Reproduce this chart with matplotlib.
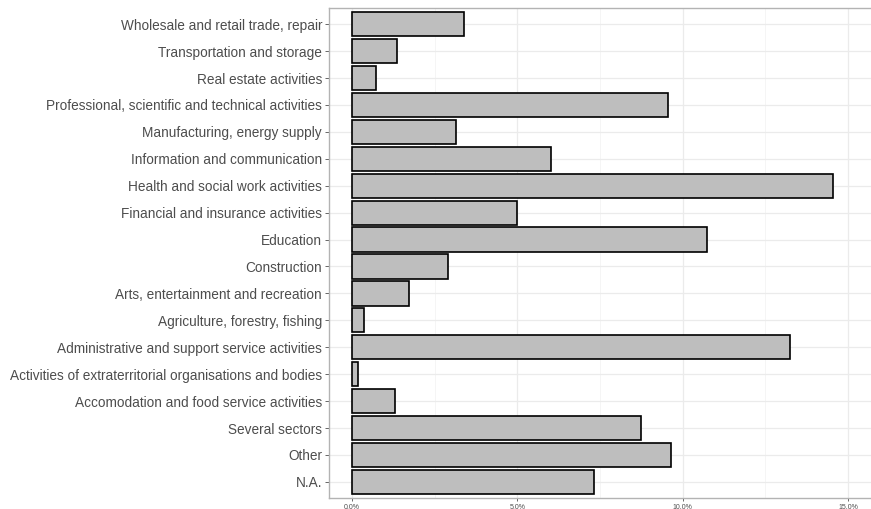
import matplotlib.pyplot as plt
from matplotlib.ticker import PercentFormatter, MultipleLocator

# sectors listed top to bottom as in the chart
sectors = [
    'Wholesale and retail trade, repair',
    'Transportation and storage',
    'Real estate activities',
    'Professional, scientific and technical activities',
    'Manufacturing, energy supply',
    'Information and communication',
    'Health and social work activities',
    'Financial and insurance activities',
    'Education',
    'Construction',
    'Arts, entertainment and recreation',
    'Agriculture, forestry, fishing',
    'Administrative and support service activities',
    'Activities of extraterritorial organisations and bodies',
    'Accomodation and food service activities',
    'Several sectors',
    'Other',
    'N.A.',
]
share = [3.39, 1.37, 0.72, 9.55, 3.13, 6.02, 14.55, 4.98, 10.72, 2.91,
         1.73, 0.36, 13.24, 0.18, 1.29, 8.75, 9.66, 7.31]

W, H = 871, 509
fig = plt.figure(figsize=(W / 100, H / 100), dpi=100)
plt.rcParams['font.family'] = ['Liberation Sans', 'DejaVu Sans']

x0_px = 352
px_per_pct = 33.07
left_px, right_px = 329, 890
top_px, bottom_px = 8, 498
ax = fig.add_axes([left_px / W, 1 - bottom_px / H,
                   (right_px - left_px) / W, (bottom_px - top_px) / H])

ypos = list(range(len(sectors)))[::-1]
ax.barh(ypos, share, height=0.9, color='#bebebe', edgecolor='black',
        linewidth=1.2, zorder=3)

ax.set_xlim((left_px - x0_px) / px_per_pct, (right_px - x0_px) / px_per_pct)
ax.set_ylim(-0.6, len(sectors) - 1 + 0.6)
ax.set_yticks(ypos)
ax.set_yticklabels(sectors, fontsize=9.8, color='#4d4d4d')

ax.xaxis.set_major_locator(MultipleLocator(5))
ax.xaxis.set_minor_locator(MultipleLocator(2.5))
ax.xaxis.set_major_formatter(PercentFormatter(xmax=100, decimals=1))
ax.tick_params(axis='x', labelsize=5, colors='#4d4d4d', length=2.5, width=0.6, pad=1.5)
ax.tick_params(axis='x', which='minor', length=0)
ax.tick_params(axis='y', length=3, width=0.6, color='#4d4d4d', pad=2)

ax.grid(True, which='major', color='#ebebeb', linewidth=0.9, zorder=0)
ax.grid(True, which='minor', axis='x', color='#f2f2f2', linewidth=0.5, zorder=0)
for s in ax.spines.values():
    s.set_color('#b3b3b3')
    s.set_linewidth(1.0)

fig.savefig('out.png', dpi=100)
